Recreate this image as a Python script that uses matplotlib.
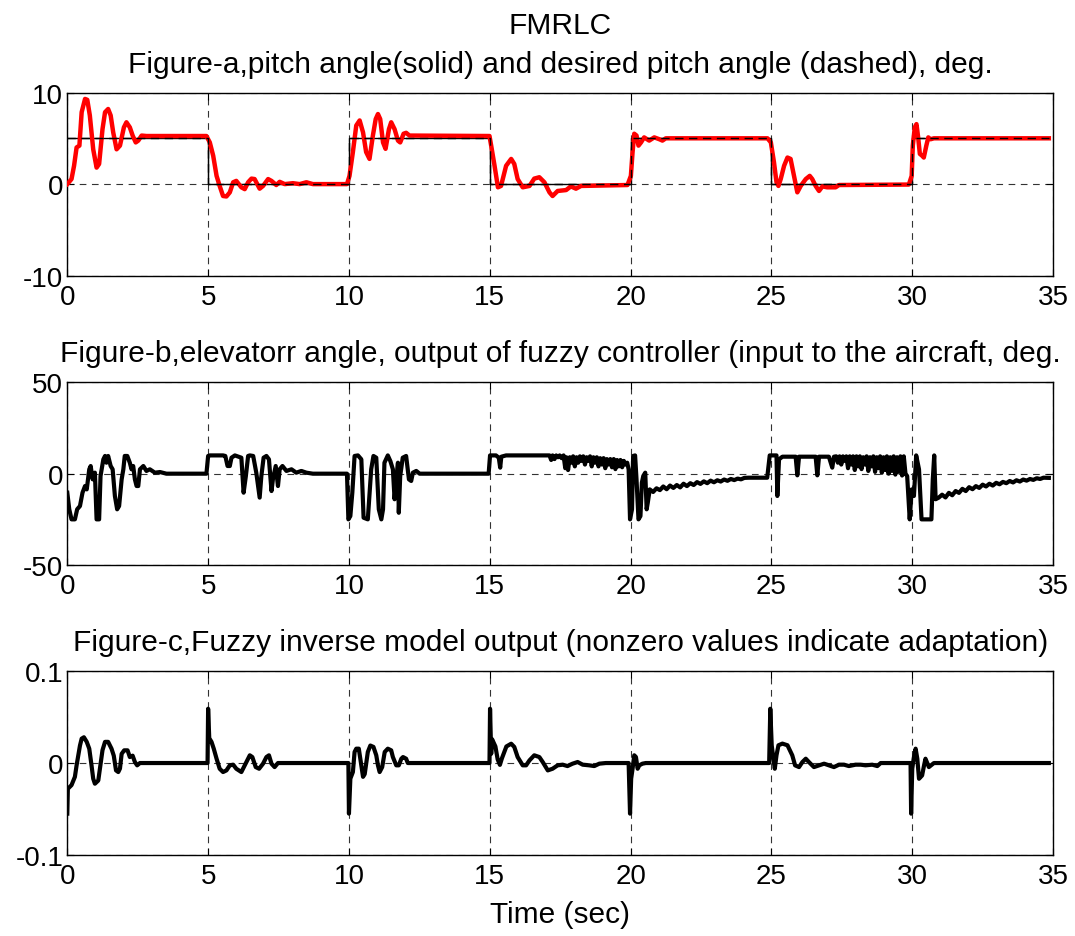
import numpy as np
import matplotlib
matplotlib.use('Agg')
import matplotlib.pyplot as plt

plt.rcParams['font.family'] = ['Liberation Sans', 'DejaVu Sans']
plt.rcParams['axes.unicode_minus'] = False

pitch_t = [0, 0.15, 0.24, 0.33, 0.43, 0.51, 0.63, 0.71, 0.80, 0.92, 1.04, 1.13, 1.25, 1.34, 1.45, 1.54,
           1.63, 1.75, 1.87, 2.01, 2.10, 2.22, 2.32, 2.43, 2.52, 2.64, 2.81, 4.94,
           5.06, 5.18, 5.30, 5.41, 5.53, 5.65, 5.77, 5.89, 6.00, 6.18, 6.30, 6.42, 6.54, 6.65, 6.83, 6.95,
           7.13, 7.25, 7.42, 7.54, 7.72, 8.01, 8.25, 8.49, 8.72, 9.93,
           10.02, 10.14, 10.26, 10.38, 10.50, 10.61, 10.73, 10.85, 10.95, 11.03, 11.11, 11.21, 11.30, 11.42,
           11.50, 11.62, 11.74, 11.82, 11.94, 12.03, 12.15, 14.99,
           15.05, 15.17, 15.29, 15.40, 15.58, 15.76, 15.87, 15.99, 16.17, 16.41, 16.58, 16.76, 16.94, 17.12,
           17.23, 17.41, 17.71, 17.88, 18.06, 18.24, 19.89,
           20.01, 20.07, 20.13, 20.21, 20.28, 20.37, 20.48, 20.66, 20.84, 21.02, 21.13, 21.25, 24.86,
           24.98, 25.09, 25.18, 25.25, 25.33, 25.45, 25.57, 25.68, 25.80, 25.92, 26.04, 26.22, 26.36, 26.45,
           26.57, 26.69, 26.81, 26.98, 27.28, 27.40, 29.88,
           29.98, 30.02, 30.09, 30.15, 30.21, 30.27, 30.35, 30.41, 30.50, 30.57, 30.65, 30.77, 34.85]
pitch_v = [0, 0.55, 2.0, 4.0, 4.2, 7.85, 9.3, 9.2, 7.5, 3.8, 1.8, 2.2, 6.0, 7.85, 8.2, 7.5,
           5.65, 3.8, 4.2, 6.2, 6.75, 6.2, 5.3, 4.55, 4.75, 5.3, 5.25, 5.25,
           4.55, 3.1, 0.9, -0.2, -1.3, -1.35, -0.9, 0.2, 0.35, -0.35, -0.55, 0.2, 0.6, 0.55, -0.5, -0.2,
           0.55, 0.35, -0.1, 0.25, 0, 0.1, 0, 0.2, 0, 0,
           0.9, 3.5, 6.4, 6.95, 5.65, 3.5, 2.75, 5.3, 7.1, 7.65, 7.1, 4.55, 3.85, 6.0,
           6.75, 6.0, 4.75, 4.55, 5.5, 5.6, 5.3, 5.25,
           4.2, 2.0, -0.35, -0.2, 2.0, 2.75, 2.2, 0.55, -0.35, -0.2, 0.6, 0.75, 0.2, -0.9,
           -1.3, -0.75, -0.65, -0.25, -0.5, -0.2, -0.1,
           0.9, 3.5, 5.5, 5.3, 4.2, 4.55, 5.1, 4.75, 5.1, 4.9, 4.75, 5.0, 5.0,
           4.55, 2.4, 0.2, -0.2, 0.55, 2.0, 2.9, 2.75, 0.9, -0.9, -0.2, 0.55, 0.9, 0.55,
           -0.2, -0.75, -0.25, -0.35, -0.35, -0.1, -0.05,
           0.9, 4.2, 6.2, 6.55, 5.1, 3.3, 3.1, 2.9, 4.2, 5.1, 4.9, 5.0, 5.0]

# desired pitch angle (square wave)
desired_t = [0, 5, 5, 10, 10, 15, 15, 20, 20, 25, 25, 30, 30, 34.85]
desired_v = [5, 5, 0, 0, 5, 5, 0, 0, 5, 5, 0, 0, 5, 5]

elev_t = [0, 0.07, 0.15, 0.27, 0.35, 0.45, 0.54, 0.63, 0.69, 0.78, 0.83, 0.90, 0.98, 1.04, 1.13, 1.18,
          1.28, 1.34, 1.39, 1.45, 1.54, 1.61, 1.69, 1.77, 1.84, 1.93, 1.99, 2.04, 2.13, 2.22, 2.28, 2.34,
          2.40, 2.46, 2.52, 2.58, 2.70, 2.81, 2.93, 3.11, 3.29, 3.52, 4.94,
          5.00, 5.06, 5.53, 5.61, 5.69, 5.77, 5.83, 5.95, 6.18, 6.26, 6.34, 6.42, 6.48, 6.60, 6.71, 6.83,
          6.89, 6.97, 7.07, 7.16, 7.25, 7.30, 7.40, 7.48, 7.54, 7.64, 7.78, 7.96, 8.13, 8.31, 8.49, 8.72, 9.93,
          9.98, 10.05, 10.12, 10.20, 10.32, 10.44, 10.52, 10.67, 10.79, 10.87, 10.97, 11.06, 11.15, 11.21,
          11.26, 11.38, 11.47, 11.56, 11.62, 11.68, 11.74, 11.77, 11.82, 11.91, 12.03, 12.13, 12.21, 12.27,
          12.39, 12.51, 14.96,
          15.01, 15.22, 15.32, 15.37, 15.41, 15.58, 17.12, 17.18, 17.23,
          17.30, 17.36, 17.42, 17.48, 17.55, 17.62, 17.68, 17.72, 17.78, 17.84, 17.90, 17.96, 18.02, 18.08,
          18.14, 18.20, 18.26, 18.32, 18.38, 18.44, 18.50, 18.56, 18.62, 18.68, 18.74, 18.80, 18.86, 18.92,
          18.98, 19.04, 19.10, 19.16, 19.22, 19.28, 19.34, 19.40, 19.46, 19.52, 19.58, 19.64, 19.70, 19.76,
          19.82, 19.88, 19.93,
          19.98, 20.05, 20.09, 20.16, 20.21, 20.28, 20.35, 20.40, 20.45, 20.52, 20.57, 20.61, 20.68,
          20.80, 20.92, 21.04, 21.16, 21.28, 21.40, 21.52, 21.64, 21.76, 21.88, 22.00, 22.12, 22.24, 22.36,
          22.48, 22.60, 22.72, 22.84, 22.96, 23.08, 23.20, 23.32, 23.44, 23.56, 23.68, 23.80, 23.92, 24.04,
          24.20, 24.85,
          24.94, 25.18, 25.21, 25.27, 25.39, 25.86, 25.92, 25.98, 26.57, 26.63, 26.69, 27.04, 27.16, 27.22,
          27.30, 27.36, 27.42, 27.48, 27.54, 27.60, 27.66, 27.72, 27.78, 27.84, 27.90, 27.96, 28.02, 28.08,
          28.14, 28.20, 28.26, 28.32, 28.38, 28.44, 28.50, 28.56, 28.62, 28.68, 28.74, 28.80, 28.86, 28.92,
          28.98, 29.04, 29.10, 29.16, 29.22, 29.28, 29.34, 29.40, 29.46, 29.52, 29.58, 29.64, 29.70, 29.76,
          29.82,
          29.91, 29.98, 30.06, 30.14, 30.24, 30.33, 30.68, 30.73, 30.78, 30.83,
          30.94, 31.06, 31.18, 31.30, 31.42, 31.54, 31.66, 31.78, 31.90, 32.02, 32.14, 32.26, 32.38, 32.50,
          32.62, 32.74, 32.86, 32.98, 33.10, 33.22, 33.34, 33.46, 33.58, 33.70, 33.82, 33.94, 34.06, 34.18,
          34.30, 34.42, 34.54, 34.66, 34.85]
elev_v = [-10.4, -19.5, -25, -25, -19.5, -17.7, -10.4, -6.75, -8.6, 2.4, 4.2, -3.1, 0.55, -25, -25, -1.3,
          7.85, 9.7, 6.0, 9.7, 4.2, 2.4, -12.2, -19.5, -17.7, -3.1, 2.4, 9.7, 9.7, 6.0, 2.4, 4.2,
          -3.1, -6.75, -6.75, 2.4, 4.2, 1.5, 2.4, 0.55, 0.9, 0, 0,
          9.7, 10, 10, 9.7, 4.2, 4.2, 8.75, 10, 8.75, -10.4, -1.3, 9.7, 10, 9.7, 0.55, -13.1,
          -1.3, 8.75, 9.7, 7.85, -9.5, -3.1, 4.2, -6.75, 2.4, 4.2, 1.5, 2.4, 0.55, 1.5, 0.55, 0, 0,
          -25, -23.2, -10.4, 9.7, 10, 7.85, -24.1, -25, 2.4, 9.7, 8.75, -19.5, -25, -19.5,
          6.0, 10, 6.9, 2.4, -14.0, -3.1, 6.0, -21.4, -1.3, 8.75, 9.7, -3.1, -4.0, 0.55,
          1.5, 0, 0,
          10, 10, 8.75, 3.3, 9.3, 10, 10, 7.5, 10,
          8, 10, 9, 10, 8.5, 10, 3, 9, 2, 9, 6, 9.5, 4, 9,
          6, 9.5, 7, 9.5, 5, 9, 7, 9.5, 4, 9, 6, 9, 4, 8.5,
          5, 8.5, 3, 8, 5, 8, 3.5, 8, 2.5, 7.5, 4, 7.5, 3.5, 7,
          5, 6, 2.4,
          -25, -19.5, 9.7, 10, -3.1, -25, -23.2, -4.9, -1.3, 0.55, -19.5, -15.9, -8.6,
          -10, -8, -9, -7, -8.5, -6.5, -7.8, -6.2, -7.5, -5.5, -6.8, -5.2, -6.2, -4.6,
          -5.6, -4.2, -5.2, -3.8, -4.7, -3.6, -4.3, -3.2, -3.9, -2.9, -3.5, -2.7, -3.1, -2.3,
          -2.2, -2.2,
          10, 10, -12.2, 7.85, 9.3, 9.3, -0.9, 9.3, 9.3, -0.9, 9.3, 9.3, 3.3, 9.3,
          9.5, 6, 9.5, 5, 9.5, 7, 9.5, 3, 9.5, 5, 9.5, 2, 9.5, 4,
          9.5, 2.5, 9, 5, 9.5, 1.5, 9, 4, 9.5, 1, 9, 3, 9.5, 0.5,
          9, 2, 9.5, 0, 9, 1.5, 9.5, -0.5, 9, 1, 9.5, -1, 9.5, 0,
          -1.3,
          -25, -8.6, -12.2, 10, 2.4, -25, -25, -3.1, 10, -14.0,
          -13.1, -11.5, -13, -10.5, -11.8, -9.5, -10.5, -8.3, -9.5, -7.4, -8.5, -6.8, -7.8, -6.0,
          -7.0, -5.5, -6.5, -5.0, -5.8, -4.5, -5.2, -4.0, -4.8, -3.6, -4.3, -3.2, -3.8, -2.9,
          -3.4, -2.5, -2.9, -2.2, -2.3]

inv_t = [0, 0.02, 0.15, 0.27, 0.33, 0.39, 0.45, 0.51, 0.59, 0.69, 0.78, 0.86, 0.92, 0.98, 1.10, 1.16,
         1.25, 1.34, 1.45, 1.57, 1.65, 1.73, 1.81, 1.87, 1.93, 2.02, 2.14, 2.22, 2.32, 2.40, 2.48, 2.58, 4.98,
         5.00, 5.04, 5.12, 5.20, 5.30, 5.41, 5.53, 5.65, 5.77, 5.89, 6.00, 6.18, 6.30, 6.48, 6.57, 6.69,
         6.81, 6.95, 7.07, 7.16, 7.25, 7.36, 7.48, 9.98,
         10.00, 10.05, 10.14, 10.20, 10.26, 10.35, 10.44, 10.50, 10.56, 10.67, 10.76, 10.87, 10.97, 11.03,
         11.09, 11.18, 11.27, 11.38, 11.50, 11.56, 11.68, 11.77, 11.86, 11.92, 12.03, 12.09, 14.99,
         15.01, 15.05, 15.08, 15.20, 15.28, 15.36, 15.43, 15.59, 15.76, 15.87, 15.99, 16.17, 16.29, 16.41,
         16.58, 16.76, 16.88, 17.06, 17.23, 17.41, 17.59, 17.76, 17.94, 18.12, 18.30, 18.53, 18.71, 18.89,
         19.12, 19.93,
         19.98, 20.02, 20.07, 20.13, 20.19, 20.25, 20.31, 20.42, 20.54, 24.92,
         24.96, 25.01, 25.07, 25.12, 25.18, 25.25, 25.39, 25.57, 25.74, 25.84, 25.98, 26.10, 26.22, 26.33,
         26.51, 26.69, 26.87, 27.04, 27.22, 27.40, 27.58, 27.75, 27.99, 28.17, 28.34, 28.58, 28.76, 28.88,
         29.94,
         29.96, 30.00, 30.05, 30.12, 30.18, 30.24, 30.35, 30.42, 30.47, 30.59, 30.77, 34.85]
inv_v = [-0.055, -0.028, -0.024, -0.015, -0.0025, 0.008, 0.019, 0.0265, 0.028, 0.023, 0.0156, -0.0025,
         -0.017, -0.0225, -0.019, -0.006, 0.014, 0.023, 0.023, 0.0156, 0.008, -0.008, -0.0098, -0.006,
         0.010, 0.0138, 0.0138, 0.0065, 0.008, 0.0011, -0.0025, 0, 0,
         0.059, 0.027, 0.023, 0.0156, 0.0047, -0.0062, -0.0098, -0.008, -0.0025, -0.0018, -0.0062, -0.0098,
         -0.0025, 0.0084, 0.0065, -0.0044, -0.0062, -0.0007, 0.0065, 0.0084, -0.0007, -0.0044, 0, 0,
         -0.055, -0.017, -0.0098, 0.012, 0.0156, 0.0156, -0.0025, -0.015, -0.012, 0.012, 0.019, 0.0175,
         0.0084, -0.0025, -0.0098, -0.0044, 0.012, 0.0156, 0.0138, 0.0065, -0.0025, -0.0025, 0.0047,
         0.0065, 0.0047, 0, 0,
         0.059, 0.010, 0.026, 0.018, 0.004, -0.002, 0.005, 0.018, 0.021, 0.0175, 0.0065, -0.0025, -0.0025,
         0.0029, 0.0084, 0.0065, 0.0011, -0.008, -0.0062, -0.0025, -0.0018, -0.0033, -0.0007, 0.0011,
         -0.0018, -0.0025, -0.0033, -0.0007, 0, 0,
         -0.055, -0.017, -0.0062, 0.0084, 0.0065, -0.0062, -0.0025, -0.0007, 0, 0,
         0.059, 0.0193, 0.0047, -0.0062, 0.0084, 0.0193, 0.0211, 0.0193, 0.0084, -0.0025, -0.0044, 0.0011,
         0.0047, 0.0011, -0.0044, -0.0025, -0.0007, -0.0025, -0.0044, -0.0018, -0.0018, -0.0033, -0.0018,
         -0.0018, -0.0025, -0.0018, -0.0033, 0, 0,
         -0.055, -0.0062, 0.0047, 0.0156, 0.0047, -0.0171, -0.0135, -0.0025, 0.0047, -0.0044, 0, 0]

title_a = 'FMRLC\nFigure-a,pitch angle(solid) and desired pitch angle (dashed), deg.'
title_b = 'Figure-b,elevatorr angle, output of fuzzy controller (input to the aircraft, deg.'
title_c = 'Figure-c,Fuzzy inverse model output (nonzero values indicate adaptation)'

FS_T = 21.5   # titles / xlabel
FS_K = 20     # tick labels
fig = plt.figure(figsize=(10.75, 9.37), dpi=100)
left, width = 0.0626, 0.9170
ax1 = fig.add_axes([left, 0.7047, width, 0.1955])
ax2 = fig.add_axes([left, 0.3959, width, 0.1950])
ax3 = fig.add_axes([left, 0.0864, width, 0.1964])

ax1.plot(desired_t, desired_v, color='black', lw=1.0, zorder=2)
ax1.plot(pitch_t, pitch_v, color='red', lw=3.2, zorder=3, solid_joinstyle='round')
ax1.plot(desired_t, desired_v, color='black', lw=1.0, ls=(0, (6, 4)), zorder=4)
ax1.set_ylim(-10, 10)
ax1.set_yticks([-10, 0, 10])

ax2.plot(elev_t, elev_v, color='black', lw=3.0, zorder=3, solid_joinstyle='round')
ax2.set_ylim(-50, 50)
ax2.set_yticks([-50, 0, 50])

ax3.plot(inv_t, inv_v, color='black', lw=3.0, zorder=3, solid_joinstyle='round')
ax3.set_ylim(-0.1, 0.1)
ax3.set_yticks([-0.1, 0, 0.1])
ax3.set_xlabel('Time (sec)', fontsize=FS_T, labelpad=8)

for ax, ttl in zip([ax1, ax2, ax3], [title_a, title_b, title_c]):
    ax.set_xlim(0, 35)
    ax.set_xticks(range(0, 36, 5))
    ax.grid(True, color='0.2', lw=0.8, ls=(0, (6, 5)))
    ax.tick_params(direction='in', length=5, top=True, right=True, labelsize=FS_K)
    ax.tick_params(axis='x', pad=6)
    ax.tick_params(axis='y', pad=3)
    for sp in ax.spines.values():
        sp.set_linewidth(1.0)
    ax.set_title(ttl, fontsize=FS_T, pad=15, linespacing=1.5)
    # MATLAB style tick text
    ax.yaxis.set_major_formatter(matplotlib.ticker.FuncFormatter(lambda v, p: ('%g' % v)))

fig.savefig('out.png', dpi=100)
plt.close()
